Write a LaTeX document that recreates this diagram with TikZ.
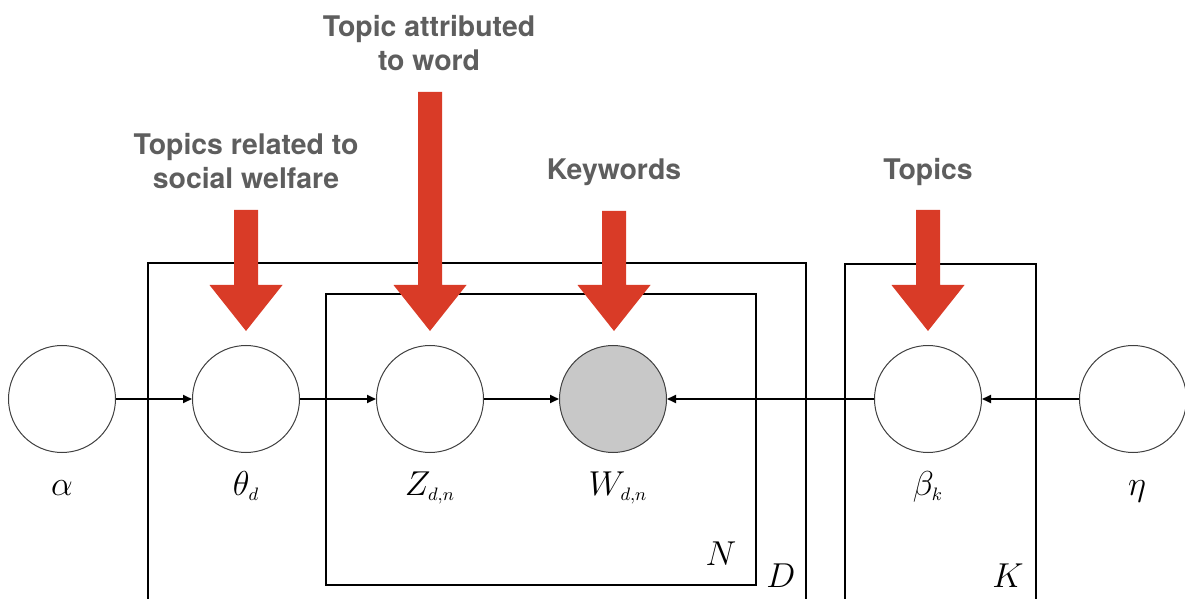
\documentclass[tikz,border=0pt]{standalone}
\usepackage{fontspec}
\newfontfamily\headfont{TeX Gyre Heros}
\usetikzlibrary{arrows.meta}
\definecolor{arrowred}{HTML}{D93B27}
\definecolor{headgray}{HTML}{5E5E5E}
\definecolor{obsgray}{HTML}{C8C8C8}
\tikzset{
  latent/.style={circle,draw=black!75,line width=0.5pt,fill=white,minimum size=53.5pt,inner sep=0pt},
  observed/.style={latent,fill=obsgray},
  varlabel/.style={anchor=base,inner sep=0pt,font=\fontsize{18}{21}\selectfont},
  platelabel/.style={anchor=base,inner sep=0pt,font=\fontsize{18}{21}\selectfont},
  heading/.style={align=center,text=headgray,inner sep=0pt,font=\headfont\bfseries\fontsize{14.2}{17}\selectfont},
  plate/.style={line width=1pt},
  conn/.style={-{Triangle[length=4.5pt,width=4pt]},line width=1pt},
  blockarrow/.style={fill=arrowred}
}
\begin{document}
\begin{tikzpicture}[x=0.5pt,y=-0.5pt]

\useasboundingbox (0,0) rectangle (1185,599);
\clip (0,0) rectangle (1185,599);

% plates
\draw[plate] (148,620) -- (148,263) -- (806,263) -- (806,620);
\draw[plate] (326,294) rectangle (756,585);
\draw[plate] (845,620) -- (845,264) -- (1036,264) -- (1036,620);
\node[platelabel] (nlbl) at (721,565) {$N$};
\node[platelabel] (dlbl) at (781,587) {$D$};
\node[platelabel] (klbl) at (1008,587) {$K$};

% red block arrows
\foreach \x/\top in {246/210, 430/92, 614/211, 928/210}
  \fill[blockarrow] (\x-12,\top) -- (\x+12,\top) -- (\x+12,285) -- (\x+36.5,285)
    -- (\x,331) -- (\x-36.5,285) -- (\x-12,285) -- cycle;

% headings
\node[heading] (welfare) at (246,161) {Topics related to\\social welfare};
\node[heading] (attrib) at (429,43) {Topic attributed\\to word};
\node[heading] (keyw) at (614,172) {Keywords};
\node[heading] (topics) at (928,172) {Topics};

% variables
\node[latent] (alpha) at (62,399) {};
\node[latent] (theta) at (246,399) {};
\node[latent] (z) at (430,399) {};
\node[observed] (w) at (613,399) {};
\node[latent] (beta) at (928,399) {};
\node[latent] (eta) at (1133,399) {};

\node[varlabel] (alphalbl) at (62,495) {$\alpha$};
\node[varlabel] (thetalbl) at (246,495) {$\theta_{\scriptscriptstyle d}$};
\node[varlabel] (zlbl) at (430,495) {$Z_{\scriptscriptstyle d,n}$};
\node[varlabel] (wlbl) at (618,495) {$W_{\scriptscriptstyle d,n}$};
\node[varlabel] (betalbl) at (928,495) {$\beta_{\scriptscriptstyle k}$};
\node[varlabel] (etalbl) at (1137,495) {$\eta$};

% edges
\draw[conn] (alpha) -- (theta);
\draw[conn] (theta) -- (z);
\draw[conn] (z) -- (w);
\draw[conn] (beta) -- (w);
\draw[conn] (eta) -- (beta);

\end{tikzpicture}
\end{document}
